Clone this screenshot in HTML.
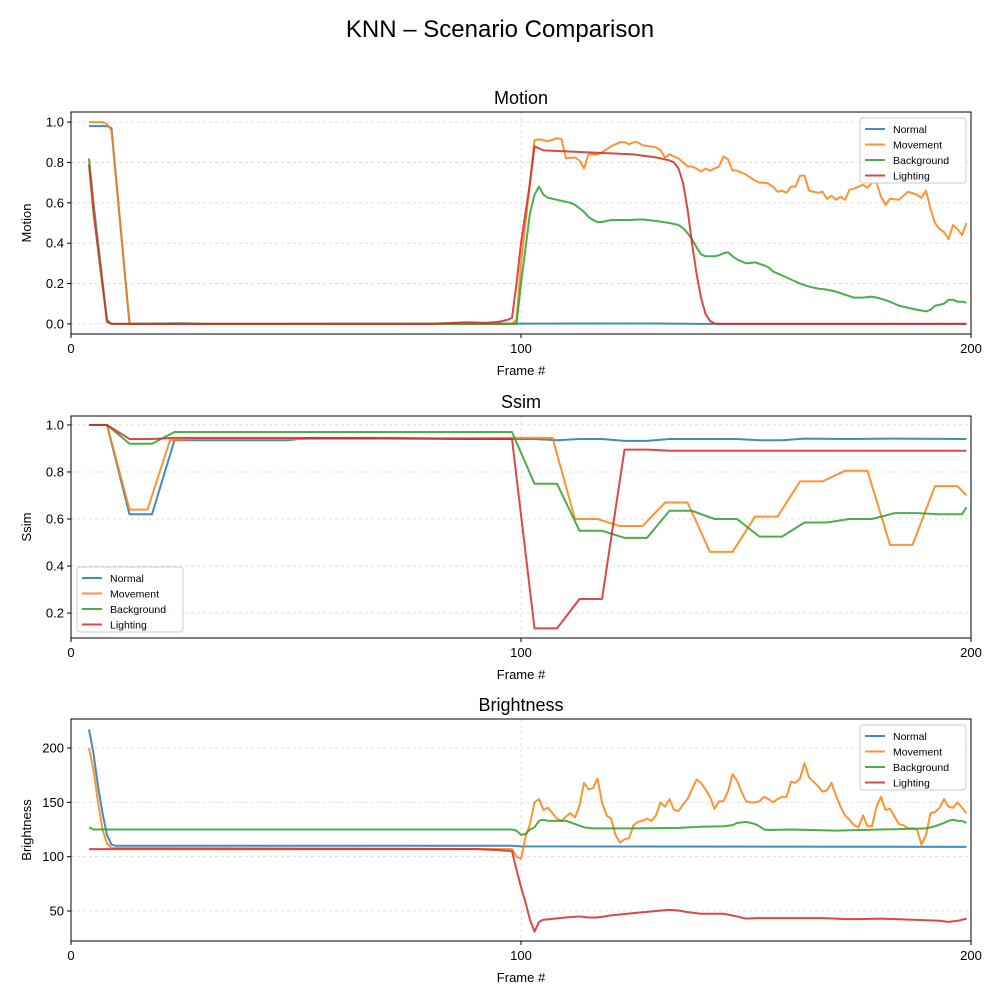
<!DOCTYPE html>
<html><head><meta charset="utf-8">
<style>
body{margin:0;background:#fff;}
svg{display:block;font-family:"Liberation Sans","DejaVu Sans",sans-serif;}
</style></head>
<body>
<svg id="chart" width="1000" height="1000" viewBox="0 0 1000 1000">
<text x="500" y="37" text-anchor="middle" font-size="24" fill="#000">KNN – Scenario Comparison</text>
</svg>
<script>
const xTicks = [0, 100, 200];
const seriesNames = ["Normal", "Movement", "Background", "Lighting"];
const colors = ["#1f77b4", "#ff7f0e", "#2ca02c", "#d62728"];

const motionNormal = [[4,0.98],[8,0.98],[9,0.97],[13,0],[25,0.003],[30,0],[120,0.002],[130,0.002],[140,0],[199,0]];
const motionMovement = [[4,1.0],[7,1.0],[8,0.99],[9,0.96],[13,0],[98,0],[99,0.02],[100,0.3],[102,0.7],[103,0.91],[104,0.915],[106,0.905],[108,0.92],[109,0.915],[110,0.82],[112,0.825],[113,0.81],[114,0.77],[115,0.84],[117,0.84],[118,0.85],[120,0.88],[122,0.9],[123,0.9],[124,0.89],[125,0.9],[126,0.9],[127,0.885],[130,0.875],[131,0.86],[132,0.825],[133,0.84],[135,0.82],[136,0.8],[137,0.78],[138,0.78],[139,0.77],[140,0.755],[141,0.77],[142,0.76],[143,0.77],[144,0.78],[145,0.83],[146,0.815],[147,0.76],[148,0.76],[150,0.74],[152,0.71],[153,0.7],[154,0.7],[155,0.695],[156,0.68],[157,0.655],[158,0.66],[159,0.65],[160,0.68],[161,0.68],[162,0.735],[163,0.735],[164,0.66],[165,0.655],[166,0.65],[167,0.655],[168,0.62],[169,0.635],[170,0.615],[171,0.63],[172,0.615],[173,0.665],[174,0.67],[175,0.68],[176,0.69],[177,0.675],[178,0.7],[179,0.7],[180,0.63],[181,0.59],[182,0.62],[184,0.615],[186,0.655],[188,0.64],[189,0.625],[190,0.66],[191,0.57],[192,0.5],[193,0.47],[194,0.455],[195,0.42],[196,0.49],[197,0.47],[198,0.44],[199,0.5]];
const motionBackground = [[4,0.82],[5,0.6],[8,0.02],[9,0],[99,0],[100,0.2],[102,0.55],[103,0.64],[104,0.68],[105,0.64],[106,0.625],[108,0.615],[110,0.605],[111,0.6],[112,0.59],[114,0.555],[115,0.53],[116,0.515],[117,0.505],[118,0.505],[119,0.51],[120,0.515],[124,0.515],[127,0.518],[130,0.51],[133,0.5],[135,0.49],[136,0.475],[137,0.45],[138,0.42],[139,0.38],[140,0.345],[141,0.335],[143,0.335],[144,0.34],[145,0.35],[146,0.355],[147,0.335],[148,0.32],[150,0.3],[152,0.305],[154,0.29],[155,0.28],[156,0.26],[158,0.24],[160,0.22],[162,0.2],[164,0.185],[166,0.175],[168,0.17],[170,0.16],[172,0.145],[174,0.13],[176,0.13],[178,0.135],[180,0.125],[182,0.11],[184,0.09],[186,0.08],[188,0.07],[190,0.062],[191,0.07],[192,0.09],[194,0.1],[195,0.12],[196,0.12],[197,0.11],[198,0.11],[199,0.105]];
const motionLighting = [[4,0.79],[5,0.55],[8,0.01],[9,0],[80,0],[85,0.005],[88,0.008],[92,0.005],[95,0.01],[97,0.02],[98,0.03],[99,0.2],[100,0.4],[102,0.7],[103,0.88],[105,0.86],[110,0.855],[115,0.85],[120,0.845],[125,0.84],[130,0.825],[133,0.81],[134,0.8],[135,0.77],[136,0.7],[137,0.57],[138,0.4],[139,0.25],[140,0.13],[141,0.05],[142,0.015],[143,0.002],[144,0],[199,0]];

const ssimNormal = [[4,1.0],[8,1.0],[13,0.62],[18,0.62],[23,0.935],[48,0.935],[53,0.945],[73,0.945],[88,0.94],[98,0.94],[103,0.94],[108,0.935],[113,0.94],[118,0.94],[123,0.932],[128,0.932],[133,0.94],[148,0.94],[153,0.935],[158,0.935],[163,0.942],[173,0.94],[183,0.942],[199,0.94]];
const ssimMovement = [[4,1.0],[8,1.0],[13,0.64],[17,0.64],[22,0.935],[28,0.94],[48,0.94],[98,0.945],[103,0.945],[107,0.945],[112,0.6],[117,0.6],[122,0.57],[127,0.57],[132,0.67],[137,0.67],[142,0.46],[147,0.46],[152,0.61],[157,0.61],[162,0.76],[167,0.76],[172,0.805],[177,0.805],[182,0.49],[187,0.49],[192,0.74],[197,0.74],[199,0.70]];
const ssimBackground = [[4,1.0],[8,1.0],[13,0.92],[18,0.92],[23,0.97],[98,0.97],[103,0.75],[108,0.75],[113,0.55],[118,0.55],[123,0.52],[128,0.52],[133,0.635],[138,0.635],[143,0.60],[148,0.60],[153,0.525],[158,0.525],[163,0.585],[168,0.585],[173,0.60],[178,0.60],[183,0.625],[188,0.625],[193,0.62],[198,0.62],[199,0.65]];
const ssimLighting = [[4,1.0],[8,1.0],[13,0.94],[18,0.94],[23,0.945],[48,0.945],[88,0.94],[98,0.94],[103,0.135],[108,0.135],[113,0.26],[118,0.26],[123,0.895],[128,0.895],[133,0.89],[199,0.89]];

const brightNormal = [[4,217],[5,195],[6,165],[7,140],[8,120],[9,111],[10,110],[98,110],[100,109.5],[199,109]];
const brightMovement = [[4,200],[5,180],[6,150],[7,125],[8,112],[9,108],[20,108],[98,107],[99,100],[100,98],[101,118],[102,130],[103,150],[104,153],[105,143],[106,145],[107,140],[108,135],[109,133],[110,137],[111,140],[112,136],[113,147],[114,168],[115,162],[116,163],[117,172],[118,150],[119,138],[120,135],[121,120],[122,113],[123,116],[124,117],[125,129],[126,132],[127,133],[128,135],[129,133],[130,138],[131,150],[132,146],[133,153],[134,143],[135,142],[136,148],[137,153],[138,162],[139,171],[140,168],[141,162],[142,155],[143,144],[144,151],[145,151],[146,160],[147,176],[148,170],[149,160],[150,151],[151,150],[152,150],[153,151],[154,155],[155,153],[156,150],[157,153],[158,155],[159,155],[160,169],[161,168],[162,172],[163,186],[164,173],[165,169],[166,165],[167,160],[168,161],[169,168],[170,156],[171,146],[172,138],[173,134],[174,129],[175,127],[176,138],[177,128],[178,128],[179,146],[180,155],[181,143],[182,144],[183,137],[184,130],[185,129],[186,126],[187,126],[188,125],[189,111],[190,120],[191,140],[192,141],[193,145],[194,153],[195,146],[196,145],[197,150],[198,145],[199,140]];
const brightBackground = [[4,127],[5,125],[98,125],[99,124],[100,120],[101,121],[102,125],[103,127],[104,133],[105,134],[106,133],[110,133],[112,130],[114,127],[116,126],[125,126],[135,126.5],[140,127.5],[145,128],[147,129],[148,131],[150,132],[152,130],[153,128],[154,125],[155,124.5],[160,125],[170,124],[180,125],[190,126],[192,128],[194,131],[195,133],[196,134],[197,133],[198,133],[199,131]];
const brightLighting = [[4,107],[90,107],[95,106],[98,105],[99,88],[100,72],[101,58],[102,42],[103,31],[104,40],[105,42],[110,44],[113,45],[115,44],[117,44],[120,46],[125,48],[130,50],[133,51],[135,50.5],[137,49],[140,47.5],[145,47.5],[148,45],[150,43],[152,43.5],[167,43.5],[170,43],[172,42.5],[175,42.5],[180,43],[193,41],[195,40],[197,41],[199,43]];

const motionTicks = [0.0, 0.2, 0.4, 0.6, 0.8, 1.0];
const ssimTicks = [0.2, 0.4, 0.6, 0.8, 1.0];
const brightTicks = [50, 100, 150, 200];

const NS = "http://www.w3.org/2000/svg";
const svg = document.getElementById("chart");
function mk(tag, attrs, parent) {
  const e = document.createElementNS(NS, tag);
  for (const k in attrs) e.setAttribute(k, attrs[k]);
  (parent || svg).appendChild(e);
  return e;
}

const panels = [
  {key:"motion", title:"Motion", ylabel:"Motion", top:112, bottom:334, ymin:-0.05, ymax:1.05, ticks:motionTicks, fmt:v=>v.toFixed(1), series:[motionNormal,motionMovement,motionBackground,motionLighting], legend:"tr"},
  {key:"ssim", title:"Ssim", ylabel:"Ssim", top:416, bottom:638, ymin:0.094, ymax:1.038, ticks:ssimTicks, fmt:v=>v.toFixed(1), series:[ssimNormal,ssimMovement,ssimBackground,ssimLighting], legend:"bl"},
  {key:"brightness", title:"Brightness", ylabel:"Brightness", top:719, bottom:941, ymin:22.4, ymax:226.7, ticks:brightTicks, fmt:v=>String(v), series:[brightNormal,brightMovement,brightBackground,brightLighting], legend:"tr"}
];
const L = 71, R = 971;
const xScale = f => L + (f - 0) / 200 * (R - L);

panels.forEach(p => {
  const g = mk("g", {});
  
  
  const yScale = v => p.bottom - (v - p.ymin) / (p.ymax - p.ymin) * (p.bottom - p.top);
  p.ticks.forEach(t => {
    const gl = mk("line", {x1:L, x2:R, y1:yScale(t), y2:yScale(t), stroke:"#b0b0b0", "stroke-width":0.8, "stroke-dasharray":"3,3", opacity:0.5}, g);
    
    
  });
  xTicks.forEach(t => {
    const gl = mk("line", {x1:xScale(t), x2:xScale(t), y1:p.top, y2:p.bottom, stroke:"#b0b0b0", "stroke-width":0.8, "stroke-dasharray":"3,3", opacity:0.5}, g);
    
    
  });
  p.series.forEach((s, i) => {
    const d = s.map((pt, j) => (j ? "L" : "M") + xScale(pt[0]).toFixed(2) + "," + yScale(pt[1]).toFixed(2)).join("");
    const path = mk("path", {d:d, fill:"none", stroke:colors[i], "stroke-width":2, "stroke-opacity":0.85, "stroke-linejoin":"round"}, g);
    
    
  });
  const fr = mk("rect", {x:L, y:p.top, width:R-L, height:p.bottom-p.top, fill:"none", stroke:"#000", "stroke-width":1}, g);
  
  
  p.ticks.forEach(t => {
    const y = yScale(t);
    mk("line", {x1:L-4, x2:L, y1:y, y2:y, stroke:"#000", "stroke-width":1}, g);
    const tx = mk("text", {x:L-7, y:y+4.5, "text-anchor":"end", "font-size":13, fill:"#000"}, g);
    tx.textContent = p.fmt(t);
    
    
  });
  xTicks.forEach(t => {
    const x = xScale(t);
    mk("line", {x1:x, x2:x, y1:p.bottom, y2:p.bottom+4, stroke:"#000", "stroke-width":1}, g);
    const tx = mk("text", {x:x, y:p.bottom+19, "text-anchor":"middle", "font-size":13, fill:"#000"}, g);
    tx.textContent = String(t);
    
    
  });
  const ttl = mk("text", {x:(L+R)/2, y:p.top-8, "text-anchor":"middle", "font-size":18, fill:"#000"}, g);
  ttl.textContent = p.title;
  
  
  const xl = mk("text", {x:(L+R)/2, y:p.bottom+41, "text-anchor":"middle", "font-size":13, fill:"#000"}, g);
  xl.textContent = "Frame #";
  
  
  const cy = (p.top + p.bottom) / 2;
  const yl = mk("text", {x:31, y:cy, "text-anchor":"middle", "font-size":13, fill:"#000", transform:"rotate(-90 31 " + cy + ")"}, g);
  yl.textContent = p.ylabel;
  
  
  const lx = p.legend === "tr" ? 860 : 77;
  const ly = p.legend === "tr" ? p.top + 6 : p.bottom - 71;
  const lg = mk("g", {}, g);
  
  
  mk("rect", {x:lx, y:ly, width:106, height:65, rx:3, fill:"#fff", "fill-opacity":0.8, stroke:"#ccc", "stroke-width":1}, lg);
  seriesNames.forEach((n, i) => {
    const yy = ly + 11 + i * 15.5;
    const ent = mk("g", {}, lg);
    
    
    mk("line", {x1:lx+5, x2:lx+25, y1:yy, y2:yy, stroke:colors[i], "stroke-width":2, "stroke-opacity":0.85}, ent);
    const t = mk("text", {x:lx+33, y:yy+4, "font-size":10.5, fill:"#000"}, ent);
    t.textContent = n;
  });
});
</script>
</body></html>
